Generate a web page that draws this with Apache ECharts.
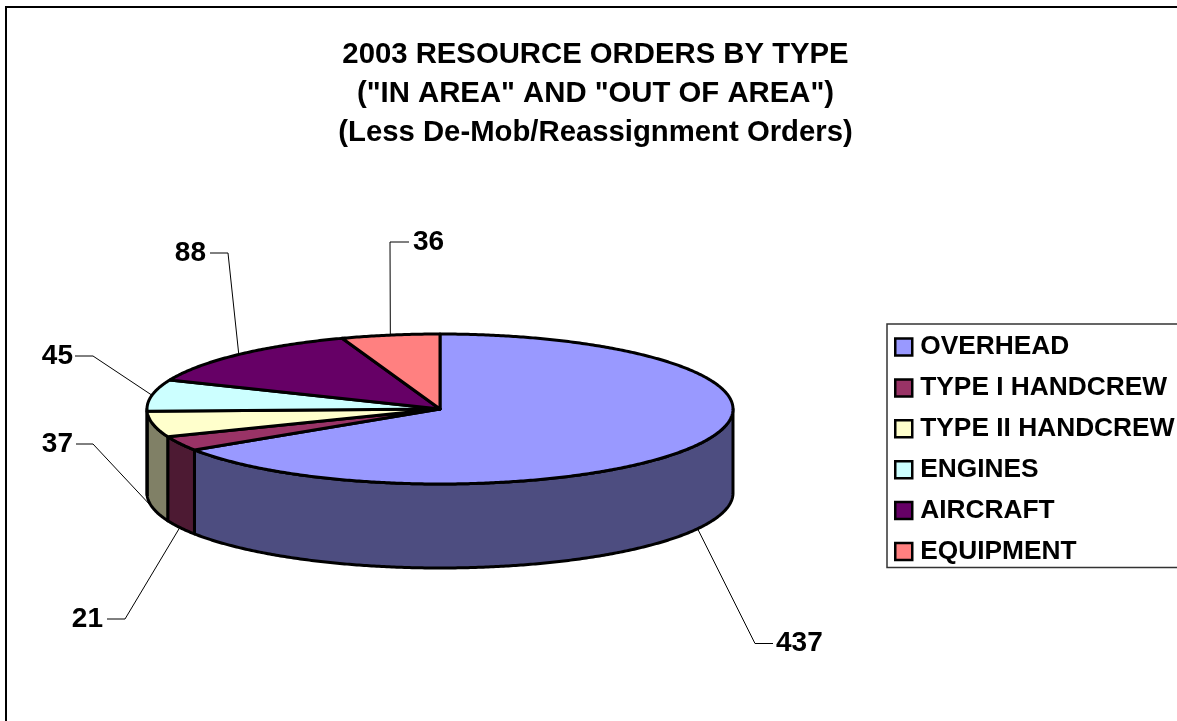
<!DOCTYPE html>
<html><head><meta charset="utf-8">
<style>html,body{margin:0;padding:0;background:#fff;overflow:hidden}#c{width:1177px;height:721px}</style>
<script src="https://cdn.jsdelivr.net/npm/echarts@6/dist/echarts.min.js"></script>
</head><body><div id="c"></div>
<script>
const categories = ['OVERHEAD','TYPE I HANDCREW','TYPE II HANDCREW','ENGINES','AIRCRAFT','EQUIPMENT'];
const values = [437,21,37,45,88,36];
const topColors = ['#9999FF','#993366','#FFFFCC','#CCFFFF','#660066','#FF8080'];
const sideColors = ['#4D4D80','#4D1A33','#808066','#668080','#330033','#804040'];
const titleText = '2003 RESOURCE ORDERS BY TYPE\n("IN AREA" AND "OUT OF AREA")\n(Less De-Mob/Reassignment Orders)';

// layout of the tilted pie
const FONT = '"Liberation Sans", Arial, sans-serif';
const CX = 440, CY = 409, RX = 293, RY = 75, DEPTH = 84;
// label placement per slice: elbow x, y, end x, text anchor x, text align
const labelLayout = [
  {ex:755, ey:643.5, tx:773, lx:776, align:'left'},
  {ex:125, ey:619,   tx:107, lx:103, align:'right'},
  {ex:93,  ey:444,   tx:76,  lx:73,  align:'right'},
  {ex:93,  ey:356,   tx:75,  lx:73,  align:'right'},
  {ex:228, ey:253,   tx:210, lx:206, align:'right'},
  {ex:390, ey:242,   tx:409, lx:413, align:'left'}
];
const total = values.reduce((a,b)=>a+b,0);
const rim = (deg,dy)=>{const t=deg*Math.PI/180;return [CX+RX*Math.sin(t), CY-RY*Math.cos(t)+(dy||0)];};

function renderSlice(params, api){
  const i = params.seriesIndex, v = api.value(0);
  const before = values.slice(0,i).reduce((a,b)=>a+b,0);
  const a0 = before/total*360, a1 = (before+v)/total*360, mid=(a0+a1)/2;
  const children = [];
  // front wall
  const s0 = Math.max(a0,90), s1 = Math.min(a1,270);
  if (s1 > s0){
    const up=[],down=[];
    for(let a=s0;a<s1;a+=0.5){up.push(rim(a));down.unshift(rim(a,DEPTH));}
    up.push(rim(s1));down.unshift(rim(s1,DEPTH));
    children.push({type:'polygon',z2:1,shape:{points:up.concat(down)},
      style:{fill:sideColors[i],stroke:'#000',lineWidth:3,lineJoin:'round'}});
  }
  // top face
  const pts=[[CX,CY]];
  for(let a=a0;a<a1;a+=0.5)pts.push(rim(a));
  pts.push(rim(a1));
  children.push({type:'polygon',z2:2,shape:{points:pts},
    style:{fill:topColors[i],stroke:'#000',lineWidth:3,lineJoin:'round'}});
  // leader + label
  const L = labelLayout[i];
  const front = mid>90 && mid<270;
  children.push({type:'polyline',z2:0,shape:{points:[rim(mid,front?DEPTH:0),[L.ex,L.ey],[L.tx,L.ey]]},
    style:{fill:null,stroke:'#000',lineWidth:1}});
  children.push({type:'text',z2:3,style:{x:L.lx,y:L.ey,text:String(v),textAlign:L.align,textVerticalAlign:'middle',
    font:'bold 28px '+FONT,fill:'#000'}});
  return {type:'group',children};
}

const chart = echarts.init(document.getElementById('c'),null,{renderer:'canvas'});
chart.setOption({
  animation:false,
  backgroundColor:'#fff',
  title:{text:titleText,left:590.5,top:30.5,textAlign:'center',
    textStyle:{fontFamily:FONT,fontWeight:'bold',fontSize:29.3,lineHeight:39,color:'#000'}},
  legend:{orient:'vertical',left:887,top:324,padding:[10,30,3,7],itemWidth:17,itemHeight:17,itemGap:14.9,
    backgroundColor:'#fff',borderColor:'#333',borderWidth:1.5,selectedMode:false,icon:'rect',
    itemStyle:{borderColor:'#000',borderWidth:2.5},
    textStyle:{fontFamily:FONT,fontWeight:'bold',fontSize:26.3,color:'#000',padding:[0,0,0,3]},
    data:categories},
  graphic:[{type:'rect',z:-1,silent:true,shape:{x:6,y:7,width:1300,height:900},
    style:{fill:'#fff',stroke:'#000',lineWidth:2}}],
  series:categories.map((name,i)=>({
    type:'custom',name,coordinateSystem:'none',silent:true,
    itemStyle:{color:topColors[i]},
    data:[[values[i]]],
    renderItem:renderSlice
  }))
});
</script></body></html>
